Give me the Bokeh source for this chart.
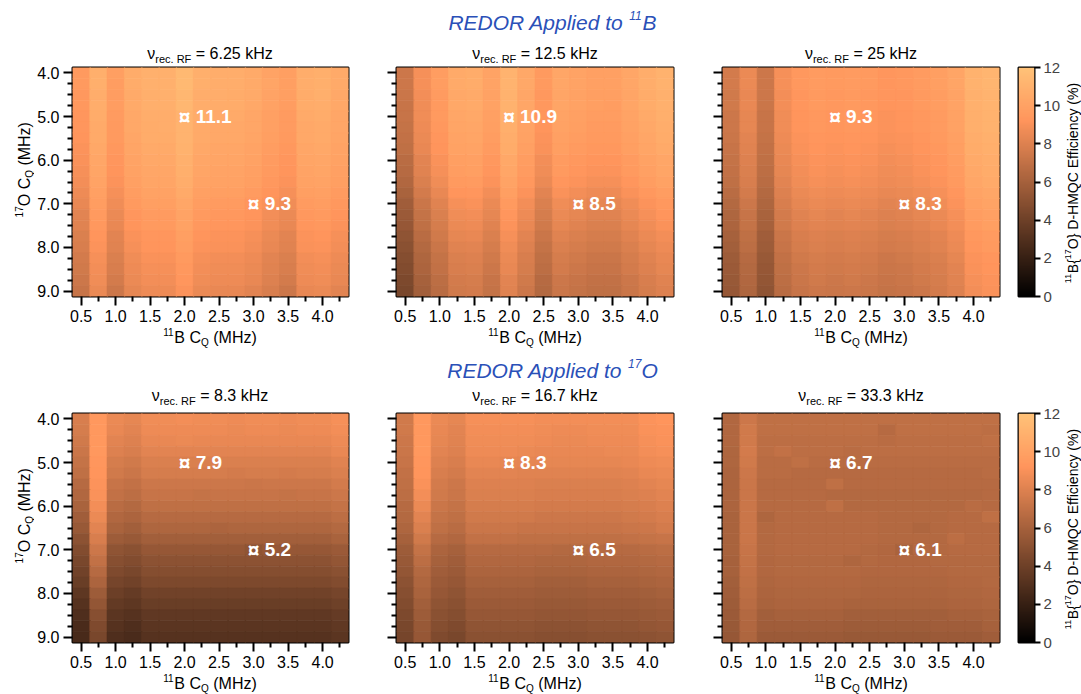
import math
import numpy as np
from bokeh.plotting import figure
from bokeh.layouts import row, column
from bokeh.models import (Range1d, FixedTicker, PrintfTickFormatter, LinearColorMapper,
                          ColumnDataSource, Label, LinearAxis, Spacer)
from bokeh.transform import transform
from bokeh.core.properties import value
from bokeh.embed import file_html
from bokeh.resources import INLINE

# ---------------- data ----------------
CQ_B = [0.5, 0.75, 1.0, 1.25, 1.5, 1.75, 2.0, 2.25, 2.5, 2.75, 3.0, 3.25, 3.5, 3.75, 4.0, 4.25]
CQ_O = [4.0, 4.25, 4.5, 4.75, 5.0, 5.25, 5.5, 5.75, 6.0, 6.25, 6.5, 6.75, 7.0,
        7.25, 7.5, 7.75, 8.0, 8.25, 8.5, 8.75, 9.0]

RF_LABELS = ["6.25 kHz", "12.5 kHz", "25 kHz", "8.3 kHz", "16.7 kHz", "33.3 kHz"]
ROW_TITLES = [("11", "B"), ("17", "O")]
MARK_B = [2.0, 3.0]
MARK_O = [5.0, 7.0]
MARK_VALUES = [["11.1", "9.3"], ["10.9", "8.5"], ["9.3", "8.3"],
               ["7.9", "5.2"], ["8.3", "6.5"], ["6.7", "6.1"]]
CBAR_TICKS = [0, 2, 4, 6, 8, 10, 12]

# efficiency (%) rows = 17O CQ (4.0 -> 9.0), columns = 11B CQ (0.5 -> 4.25)
EFF_B_625 = [
    [9.5, 10.8, 9.8, 10.6, 10.9, 10.9, 11.4, 10.8, 10.7, 10.7, 10.5, 10.1, 9.8, 10.7, 10.8, 10.5],
    [9.5, 10.8, 9.7, 10.6, 10.9, 10.9, 11.4, 10.8, 10.7, 10.7, 10.5, 10.2, 9.8, 10.7, 10.8, 10.5],
    [9.4, 10.7, 9.7, 10.5, 10.8, 10.9, 11.3, 10.7, 10.7, 10.6, 10.5, 10.1, 9.8, 10.6, 10.8, 10.4],
    [9.4, 10.7, 9.7, 10.5, 10.8, 10.8, 11.3, 10.7, 10.6, 10.6, 10.4, 10.0, 9.7, 10.6, 10.7, 10.4],
    [9.3, 10.6, 9.6, 10.4, 10.7, 10.7, 11.1, 10.6, 10.5, 10.5, 10.3, 9.9, 9.6, 10.5, 10.6, 10.3],
    [9.3, 10.5, 9.5, 10.4, 10.6, 10.7, 11.1, 10.5, 10.4, 10.4, 10.3, 9.9, 9.6, 10.4, 10.5, 10.3],
    [9.2, 10.5, 9.5, 10.3, 10.6, 10.6, 11.1, 10.5, 10.4, 10.4, 10.2, 9.8, 9.5, 10.4, 10.5, 10.2],
    [9.1, 10.4, 9.4, 10.2, 10.5, 10.5, 11.0, 10.4, 10.3, 10.3, 10.1, 9.7, 9.4, 10.3, 10.4, 10.1],
    [9.0, 10.3, 9.3, 10.1, 10.4, 10.4, 10.9, 10.3, 10.2, 10.2, 10.0, 9.6, 9.3, 10.2, 10.3, 10.0],
    [8.9, 10.2, 9.2, 10.0, 10.3, 10.3, 10.8, 10.2, 10.1, 10.1, 9.9, 9.5, 9.2, 10.1, 10.2, 9.9],
    [8.8, 10.1, 9.1, 9.9, 10.2, 10.2, 10.7, 10.1, 10.0, 10.0, 9.8, 9.4, 9.1, 10.0, 10.1, 9.8],
    [8.6, 9.9, 8.9, 9.7, 10.0, 10.0, 10.5, 9.9, 9.8, 9.8, 9.6, 9.2, 8.9, 9.8, 9.9, 9.6],
    [8.4, 9.7, 8.7, 9.5, 9.8, 9.8, 10.3, 9.7, 9.6, 9.6, 9.3, 9.0, 8.7, 9.6, 9.7, 9.4],
    [8.2, 9.5, 8.5, 9.3, 9.6, 9.6, 10.1, 9.5, 9.4, 9.4, 9.2, 8.8, 8.5, 9.4, 9.5, 9.2],
    [8.1, 9.4, 8.4, 9.2, 9.5, 9.5, 10.0, 9.4, 9.3, 9.3, 9.1, 8.7, 8.4, 9.3, 9.4, 9.1],
    [7.9, 9.2, 8.2, 9.0, 9.3, 9.3, 9.8, 9.2, 9.1, 9.1, 8.9, 8.5, 8.2, 9.1, 9.2, 8.9],
    [7.8, 9.1, 8.1, 8.9, 9.2, 9.2, 9.7, 9.1, 9.0, 9.0, 8.8, 8.4, 8.1, 9.0, 9.1, 8.8],
    [7.6, 8.9, 7.9, 8.7, 9.0, 9.0, 9.5, 8.9, 8.8, 8.8, 8.6, 8.2, 7.9, 8.8, 8.9, 8.6],
    [7.5, 8.8, 7.8, 8.6, 8.9, 8.9, 9.4, 8.8, 8.7, 8.7, 8.5, 8.1, 7.8, 8.7, 8.8, 8.5],
    [7.4, 8.7, 7.6, 8.5, 8.8, 8.8, 9.3, 8.7, 8.6, 8.6, 8.4, 8.0, 7.6, 8.6, 8.7, 8.4],
    [7.2, 8.5, 7.4, 8.3, 8.6, 8.6, 9.1, 8.5, 8.4, 8.4, 8.2, 7.8, 7.4, 8.4, 8.5, 8.2],
]
EFF_B_125 = [
    [7.4, 8.9, 9.7, 10.5, 10.6, 10.1, 11.1, 10.4, 9.5, 10.3, 10.1, 9.9, 9.9, 10.3, 10.7, 11.0],
    [7.4, 8.9, 9.7, 10.5, 10.6, 10.1, 11.1, 10.4, 9.5, 10.3, 10.1, 9.9, 9.9, 10.3, 10.7, 11.0],
    [7.3, 8.8, 9.6, 10.4, 10.5, 10.0, 11.0, 10.3, 9.4, 10.2, 10.0, 9.8, 9.8, 10.2, 10.6, 10.9],
    [7.2, 8.7, 9.5, 10.4, 10.5, 10.0, 11.0, 10.3, 9.4, 10.2, 10.0, 9.8, 9.7, 10.2, 10.6, 10.9],
    [7.2, 8.7, 9.5, 10.3, 10.4, 9.9, 10.9, 10.2, 9.3, 10.1, 9.9, 9.7, 9.7, 10.1, 10.5, 10.8],
    [7.1, 8.6, 9.4, 10.2, 10.3, 9.8, 10.8, 10.1, 9.2, 10.0, 9.8, 9.6, 9.6, 10.0, 10.4, 10.7],
    [7.0, 8.5, 9.3, 10.1, 10.2, 9.7, 10.7, 10.0, 9.1, 9.9, 9.7, 9.5, 9.5, 9.9, 10.3, 10.6],
    [6.9, 8.4, 9.2, 10.0, 10.1, 9.6, 10.6, 9.9, 9.0, 9.8, 9.6, 9.4, 9.4, 9.8, 10.2, 10.5],
    [6.7, 8.2, 9.0, 9.8, 9.9, 9.4, 10.4, 9.7, 8.8, 9.6, 9.4, 9.2, 9.2, 9.6, 10.0, 10.3],
    [6.6, 8.1, 8.9, 9.7, 9.8, 9.3, 10.3, 9.6, 8.7, 9.5, 9.3, 9.1, 9.1, 9.5, 9.9, 10.2],
    [6.4, 7.9, 8.7, 9.5, 9.6, 9.1, 10.1, 9.4, 8.5, 9.3, 9.1, 8.9, 8.9, 9.3, 9.7, 10.0],
    [6.1, 7.6, 8.4, 9.2, 9.3, 8.8, 9.8, 9.1, 8.2, 9.0, 8.8, 8.6, 8.6, 9.0, 9.4, 9.7],
    [5.8, 7.3, 8.1, 8.9, 9.0, 8.5, 9.5, 8.8, 7.9, 8.7, 8.5, 8.3, 8.3, 8.7, 9.1, 9.4],
    [5.6, 7.1, 7.9, 8.7, 8.8, 8.3, 9.3, 8.6, 7.7, 8.5, 8.3, 8.1, 8.1, 8.5, 8.9, 9.2],
    [5.4, 6.9, 7.7, 8.5, 8.6, 8.1, 9.1, 8.4, 7.5, 8.3, 8.1, 7.9, 7.9, 8.3, 8.7, 9.0],
    [5.2, 6.7, 7.5, 8.3, 8.4, 7.9, 8.9, 8.2, 7.3, 8.1, 7.9, 7.7, 7.7, 8.1, 8.5, 8.8],
    [5.0, 6.5, 7.3, 8.1, 8.2, 7.7, 8.7, 8.0, 7.1, 7.9, 7.7, 7.5, 7.5, 7.9, 8.3, 8.6],
    [4.8, 6.3, 7.1, 7.9, 8.0, 7.5, 8.5, 7.8, 6.9, 7.7, 7.5, 7.3, 7.3, 7.7, 8.1, 8.4],
    [4.7, 6.2, 7.0, 7.8, 7.9, 7.4, 8.4, 7.7, 6.8, 7.6, 7.4, 7.2, 7.2, 7.6, 8.0, 8.3],
    [4.5, 6.0, 6.8, 7.6, 7.7, 7.2, 8.2, 7.5, 6.6, 7.4, 7.2, 7.0, 7.0, 7.4, 7.8, 8.1],
    [4.4, 5.9, 6.7, 7.5, 7.6, 7.1, 8.1, 7.4, 6.5, 7.3, 7.1, 6.9, 6.9, 7.3, 7.7, 8.0],
]
EFF_B_25 = [
    [7.6, 8.5, 7.4, 8.9, 9.4, 9.6, 9.5, 9.6, 9.5, 9.3, 9.4, 9.6, 9.8, 10.2, 11.0, 11.2],
    [7.6, 8.5, 7.4, 8.9, 9.4, 9.6, 9.5, 9.6, 9.5, 9.3, 9.4, 9.6, 9.8, 10.2, 11.0, 11.2],
    [7.5, 8.4, 7.4, 8.8, 9.3, 9.5, 9.4, 9.5, 9.4, 9.3, 9.3, 9.5, 9.7, 10.1, 10.9, 11.1],
    [7.5, 8.4, 7.3, 8.8, 9.3, 9.5, 9.4, 9.5, 9.4, 9.2, 9.3, 9.5, 9.7, 10.1, 10.9, 11.1],
    [7.4, 8.3, 7.2, 8.7, 9.2, 9.4, 9.3, 9.4, 9.3, 9.1, 9.2, 9.4, 9.6, 10.0, 10.8, 11.0],
    [7.4, 8.3, 7.2, 8.7, 9.2, 9.4, 9.3, 9.4, 9.3, 9.1, 9.2, 9.4, 9.6, 10.0, 10.8, 11.0],
    [7.3, 8.2, 7.1, 8.6, 9.1, 9.3, 9.2, 9.3, 9.2, 9.0, 9.1, 9.3, 9.5, 9.9, 10.7, 10.9],
    [7.2, 8.1, 7.0, 8.5, 9.0, 9.2, 9.1, 9.2, 9.1, 8.9, 9.0, 9.2, 9.4, 9.8, 10.6, 10.8],
    [7.1, 8.0, 6.9, 8.4, 8.9, 9.1, 9.0, 9.1, 9.0, 8.8, 8.9, 9.1, 9.3, 9.7, 10.5, 10.7],
    [7.0, 7.9, 6.8, 8.3, 8.8, 9.0, 8.9, 9.0, 8.9, 8.7, 8.8, 9.0, 9.2, 9.6, 10.4, 10.6],
    [6.9, 7.8, 6.7, 8.2, 8.7, 8.9, 8.8, 8.9, 8.8, 8.6, 8.7, 8.9, 9.1, 9.5, 10.3, 10.5],
    [6.7, 7.6, 6.5, 8.0, 8.5, 8.7, 8.6, 8.7, 8.6, 8.4, 8.5, 8.7, 8.9, 9.3, 10.1, 10.3],
    [6.5, 7.4, 6.3, 7.8, 8.3, 8.5, 8.4, 8.5, 8.4, 8.2, 8.3, 8.5, 8.7, 9.1, 9.9, 10.1],
    [6.3, 7.2, 6.1, 7.6, 8.1, 8.3, 8.2, 8.3, 8.2, 8.0, 8.1, 8.3, 8.5, 8.9, 9.7, 9.9],
    [6.2, 7.1, 6.0, 7.5, 8.0, 8.2, 8.1, 8.2, 8.1, 7.9, 8.0, 8.2, 8.4, 8.8, 9.6, 9.8],
    [6.0, 6.9, 5.8, 7.3, 7.8, 8.0, 7.9, 8.0, 7.9, 7.7, 7.8, 8.0, 8.2, 8.6, 9.4, 9.6],
    [5.9, 6.8, 5.7, 7.2, 7.7, 7.9, 7.8, 7.9, 7.8, 7.6, 7.7, 7.9, 8.1, 8.5, 9.3, 9.5],
    [5.7, 6.6, 5.5, 7.0, 7.5, 7.7, 7.6, 7.7, 7.6, 7.4, 7.5, 7.7, 7.9, 8.3, 9.1, 9.3],
    [5.6, 6.5, 5.4, 6.9, 7.4, 7.6, 7.5, 7.6, 7.5, 7.3, 7.4, 7.6, 7.8, 8.2, 9.0, 9.2],
    [5.5, 6.4, 5.3, 6.8, 7.3, 7.5, 7.4, 7.5, 7.4, 7.2, 7.3, 7.5, 7.7, 8.1, 8.9, 9.1],
    [5.4, 6.3, 5.2, 6.7, 7.2, 7.4, 7.3, 7.4, 7.3, 7.1, 7.2, 7.4, 7.6, 8.0, 8.8, 9.0],
]
EFF_O_83 = [
    [7.8, 9.4, 8.5, 8.3, 8.7, 8.7, 8.8, 8.7, 8.7, 8.6, 8.7, 8.7, 8.6, 8.7, 8.7, 8.9],
    [7.7, 9.4, 8.4, 8.2, 8.6, 8.6, 8.6, 8.6, 8.6, 8.5, 8.6, 8.6, 8.5, 8.6, 8.6, 8.8],
    [7.5, 9.4, 8.2, 8.0, 8.4, 8.4, 8.5, 8.4, 8.4, 8.4, 8.4, 8.4, 8.4, 8.4, 8.4, 8.6],
    [7.3, 9.4, 8.0, 7.8, 8.2, 8.2, 8.2, 8.2, 8.2, 8.2, 8.2, 8.2, 8.2, 8.2, 8.2, 8.4],
    [7.1, 9.3, 7.7, 7.5, 7.9, 7.9, 7.9, 7.9, 7.9, 7.9, 7.9, 7.9, 7.9, 7.9, 7.9, 8.1],
    [6.9, 9.2, 7.5, 7.3, 7.7, 7.7, 7.7, 7.7, 7.7, 7.6, 7.7, 7.7, 7.6, 7.7, 7.7, 7.9],
    [6.6, 9.1, 7.2, 7.0, 7.4, 7.4, 7.4, 7.4, 7.4, 7.4, 7.3, 7.4, 7.4, 7.4, 7.4, 7.6],
    [6.4, 9.0, 7.0, 6.8, 7.2, 7.2, 7.2, 7.1, 7.2, 7.2, 7.2, 7.2, 7.1, 7.2, 7.2, 7.4],
    [6.1, 8.8, 6.7, 6.5, 6.9, 6.9, 6.9, 6.9, 6.9, 6.9, 6.9, 6.9, 6.9, 6.9, 6.9, 7.1],
    [5.8, 8.5, 6.4, 6.2, 6.6, 6.6, 6.6, 6.6, 6.6, 6.6, 6.6, 6.6, 6.6, 6.6, 6.6, 6.8],
    [5.5, 8.2, 6.1, 5.9, 6.3, 6.3, 6.3, 6.3, 6.2, 6.3, 6.3, 6.3, 6.3, 6.3, 6.3, 6.5],
    [5.1, 7.8, 5.7, 5.5, 5.9, 5.9, 5.9, 5.9, 5.9, 5.9, 5.9, 5.9, 5.9, 5.9, 5.9, 6.1],
    [4.7, 7.4, 5.2, 5.0, 5.4, 5.4, 5.4, 5.4, 5.4, 5.4, 5.2, 5.4, 5.4, 5.4, 5.4, 5.6],
    [4.4, 7.0, 4.9, 4.7, 5.1, 5.1, 5.1, 5.1, 5.1, 5.1, 5.1, 5.1, 5.1, 5.1, 5.1, 5.3],
    [4.1, 6.6, 4.6, 4.4, 4.8, 4.8, 4.8, 4.8, 4.8, 4.8, 4.8, 4.8, 4.8, 4.8, 4.8, 5.0],
    [3.8, 6.2, 4.3, 4.1, 4.5, 4.5, 4.5, 4.5, 4.5, 4.5, 4.5, 4.5, 4.5, 4.5, 4.5, 4.7],
    [3.4, 5.7, 3.9, 3.7, 4.1, 4.1, 4.1, 4.1, 4.1, 4.1, 4.1, 4.1, 4.1, 4.1, 4.1, 4.3],
    [3.1, 5.3, 3.6, 3.4, 3.8, 3.8, 3.8, 3.8, 3.8, 3.8, 3.8, 3.8, 3.8, 3.8, 3.8, 4.0],
    [2.9, 4.9, 3.3, 3.1, 3.5, 3.5, 3.5, 3.5, 3.5, 3.5, 3.5, 3.5, 3.5, 3.5, 3.5, 3.7],
    [2.7, 4.6, 3.1, 2.9, 3.3, 3.3, 3.3, 3.3, 3.3, 3.3, 3.3, 3.3, 3.3, 3.3, 3.3, 3.5],
    [2.6, 4.4, 2.9, 2.7, 3.1, 3.1, 3.1, 3.1, 3.1, 3.1, 3.1, 3.1, 3.1, 3.1, 3.1, 3.3],
]
EFF_O_167 = [
    [7.5, 9.4, 8.5, 8.3, 8.9, 8.9, 8.9, 8.9, 8.8, 8.8, 8.8, 8.8, 8.8, 8.8, 9.1, 9.2],
    [7.5, 9.4, 8.4, 8.2, 8.8, 8.8, 8.8, 8.8, 8.7, 8.6, 8.6, 8.7, 8.7, 8.7, 9.0, 9.1],
    [7.4, 9.4, 8.3, 8.1, 8.7, 8.7, 8.7, 8.7, 8.6, 8.5, 8.5, 8.6, 8.6, 8.6, 8.9, 9.0],
    [7.3, 9.4, 8.2, 8.0, 8.6, 8.6, 8.6, 8.5, 8.4, 8.4, 8.4, 8.4, 8.5, 8.5, 8.8, 8.9],
    [7.2, 9.3, 8.0, 7.8, 8.4, 8.4, 8.3, 8.3, 8.3, 8.3, 8.3, 8.3, 8.3, 8.4, 8.6, 8.7],
    [7.0, 9.2, 7.8, 7.6, 8.2, 8.2, 8.2, 8.1, 8.1, 8.1, 8.1, 8.1, 8.1, 8.2, 8.4, 8.5],
    [6.9, 9.0, 7.6, 7.4, 8.0, 8.0, 8.0, 8.0, 7.9, 7.9, 7.9, 7.9, 7.9, 8.0, 8.2, 8.3],
    [6.8, 8.8, 7.5, 7.3, 7.9, 7.9, 7.9, 7.9, 7.8, 7.8, 7.8, 7.8, 7.8, 7.9, 8.0, 8.2],
    [6.6, 8.5, 7.3, 7.1, 7.7, 7.7, 7.7, 7.7, 7.6, 7.6, 7.6, 7.6, 7.6, 7.7, 7.8, 8.0],
    [6.5, 8.2, 7.1, 6.9, 7.5, 7.5, 7.5, 7.5, 7.4, 7.4, 7.4, 7.4, 7.4, 7.5, 7.6, 7.8],
    [6.3, 7.9, 6.9, 6.7, 7.3, 7.3, 7.3, 7.2, 7.2, 7.2, 7.2, 7.2, 7.2, 7.3, 7.4, 7.6],
    [6.0, 7.5, 6.6, 6.4, 7.0, 7.0, 7.0, 6.9, 6.9, 6.9, 6.9, 6.9, 6.9, 7.0, 7.1, 7.2],
    [5.7, 7.1, 6.2, 6.0, 6.6, 6.6, 6.6, 6.6, 6.6, 6.5, 6.5, 6.6, 6.6, 6.6, 6.7, 6.8],
    [5.5, 6.8, 6.0, 5.8, 6.4, 6.4, 6.4, 6.4, 6.3, 6.3, 6.3, 6.4, 6.4, 6.4, 6.5, 6.6],
    [5.3, 6.5, 5.8, 5.6, 6.2, 6.2, 6.2, 6.2, 6.1, 6.1, 6.1, 6.2, 6.2, 6.2, 6.3, 6.4],
    [5.1, 6.3, 5.6, 5.4, 6.0, 6.0, 6.0, 6.0, 5.9, 5.9, 5.9, 6.0, 6.0, 6.0, 6.1, 6.2],
    [4.9, 6.1, 5.4, 5.2, 5.8, 5.8, 5.8, 5.8, 5.7, 5.7, 5.7, 5.8, 5.8, 5.8, 5.9, 6.0],
    [4.7, 5.9, 5.2, 5.0, 5.6, 5.6, 5.6, 5.6, 5.5, 5.5, 5.5, 5.6, 5.6, 5.6, 5.7, 5.8],
    [4.5, 5.7, 5.0, 4.8, 5.4, 5.4, 5.4, 5.4, 5.3, 5.3, 5.3, 5.4, 5.4, 5.4, 5.5, 5.6],
    [4.4, 5.5, 4.8, 4.6, 5.2, 5.2, 5.2, 5.2, 5.1, 5.1, 5.1, 5.2, 5.2, 5.2, 5.3, 5.4],
    [4.3, 5.4, 4.6, 4.4, 5.0, 5.0, 5.0, 5.0, 4.9, 4.9, 4.9, 5.0, 5.0, 5.0, 5.1, 5.2],
]
EFF_O_333 = [
    [6.4, 7.4, 6.9, 6.9, 6.9, 6.9, 6.9, 6.9, 6.9, 6.9, 6.9, 6.9, 6.9, 6.9, 6.9, 6.9],
    [6.4, 7.5, 6.9, 6.9, 6.9, 6.9, 6.9, 6.9, 6.9, 6.6, 6.9, 6.9, 6.9, 6.9, 6.9, 6.8],
    [6.4, 7.5, 6.8, 6.8, 6.8, 6.8, 6.8, 6.8, 6.8, 6.7, 6.8, 6.8, 6.8, 6.8, 6.8, 6.9],
    [6.3, 7.6, 6.8, 7.0, 6.8, 6.8, 6.8, 6.7, 6.8, 6.8, 6.8, 6.8, 6.8, 6.8, 6.8, 6.8],
    [6.3, 7.5, 6.7, 6.7, 6.9, 6.7, 6.7, 6.7, 6.7, 6.7, 6.7, 6.7, 6.7, 6.7, 6.7, 6.7],
    [6.2, 7.4, 6.7, 6.7, 6.6, 6.6, 6.6, 6.6, 6.6, 6.6, 6.6, 6.6, 6.6, 6.6, 6.6, 6.7],
    [6.2, 7.3, 6.6, 6.6, 6.6, 6.6, 6.9, 6.6, 6.6, 6.6, 6.6, 6.6, 6.6, 6.6, 6.6, 6.6],
    [6.2, 7.3, 6.6, 6.6, 6.6, 6.6, 6.5, 6.5, 6.5, 6.5, 6.5, 6.5, 6.5, 6.5, 6.5, 6.6],
    [6.2, 7.3, 6.6, 6.6, 6.6, 6.6, 6.9, 6.5, 6.5, 6.5, 6.5, 6.5, 6.5, 6.5, 6.7, 6.6],
    [6.1, 7.3, 6.3, 6.6, 6.6, 6.6, 6.6, 6.6, 6.6, 6.5, 6.5, 6.5, 6.5, 6.6, 6.6, 6.9],
    [6.1, 7.3, 6.5, 6.6, 6.6, 6.6, 6.6, 6.6, 6.6, 6.5, 6.5, 6.3, 6.5, 6.6, 6.6, 6.6],
    [6.1, 7.3, 6.5, 6.6, 6.6, 6.6, 6.6, 6.6, 6.6, 6.5, 6.5, 6.5, 6.5, 6.8, 6.6, 6.6],
    [6.1, 7.2, 6.5, 6.6, 6.6, 6.6, 6.6, 6.6, 6.5, 6.4, 6.1, 6.5, 6.5, 6.6, 6.6, 6.6],
    [6.0, 7.1, 6.4, 6.5, 6.5, 6.5, 6.5, 6.3, 6.5, 6.4, 6.4, 6.4, 6.5, 6.5, 6.5, 6.5],
    [6.0, 7.0, 6.4, 6.5, 6.5, 6.5, 6.5, 6.5, 6.4, 6.4, 6.4, 6.4, 6.4, 6.5, 6.5, 6.5],
    [5.9, 6.9, 6.3, 6.4, 6.4, 6.4, 6.4, 6.4, 6.3, 6.3, 6.3, 6.3, 6.3, 6.4, 6.4, 6.5],
    [5.8, 6.8, 6.2, 6.3, 6.3, 6.3, 6.3, 6.3, 6.2, 6.2, 6.2, 6.2, 6.2, 6.3, 6.3, 6.4],
    [5.7, 6.7, 6.1, 6.2, 6.2, 6.2, 6.2, 6.1, 6.1, 6.1, 6.1, 6.1, 6.1, 6.2, 6.2, 6.3],
    [5.6, 6.5, 5.9, 6.0, 6.0, 6.0, 6.0, 5.9, 5.9, 5.9, 5.9, 5.9, 5.9, 6.0, 6.0, 6.1],
    [5.5, 6.4, 5.8, 5.8, 5.8, 5.8, 5.8, 5.7, 5.7, 5.7, 5.7, 5.7, 5.8, 5.8, 5.8, 6.0],
    [5.4, 6.3, 5.6, 5.6, 5.6, 5.6, 5.6, 5.5, 5.5, 5.5, 5.5, 5.5, 5.6, 5.6, 5.6, 5.8],
]
PANELS = [EFF_B_625, EFF_B_125, EFF_B_25, EFF_O_83, EFF_O_167, EFF_O_333]

# ---------------- style ----------------
FONT = "Liberation Sans"
BLUE = "#2a50b8"
NB = "\u00a0"
FRAME_W, FRAME_H = 277, 229
FRAME_CX = [209.5, 534.5, 860.5]   # page x of each panel's centre
LEFT_W = 1004
RIGHT_W = 77

COPPER = []
for i in range(256):
    t = i / 255.0
    COPPER.append("#%02x%02x%02x" % (round(min(1.0, 1.3 * t) * 255),
                                     round(0.76 * t * 255), round(0.47 * t * 255)))
mapper = LinearColorMapper(palette=COPPER, low=0, high=12)

CW = {' ': .278, NB: .278, '.': .278, '=': .584, '-': .333, '(': .333, ')': .333, '{': .334,
      '}': .334, '%': .889, 'A': .667, 'B': .667, 'C': .722, 'D': .722, 'E': .667, 'F': .611,
      'H': .722, 'M': .833, 'O': .778, 'Q': .778, 'R': .722, 'k': .5, 'z': .5, 'r': .333,
      'e': .556, 'c': .5, 'p': .556, 'l': .222, 'i': .222, 'd': .556, 't': .278, 'o': .556,
      'f': .278, 'n': .556, 'y': .5, 'ν': .5}


def text_w(s, size):
    return sum(CW.get(ch, .556) for ch in s) * size


def rich(p, x, y, pieces, angle=0.0, color="black", style="normal"):
    """pieces: (text, font px, baseline shift px upward); centred on (x, y)."""
    total = sum(text_w(t, s) for t, s, _ in pieces)
    pos = -total / 2.0
    for t, s, shift in pieces:
        if angle == 0:
            xo, yo = pos, shift
        else:
            xo, yo = -shift, pos
        p.add_layout(Label(x=x, y=y, x_offset=xo, y_offset=yo, text=t, angle=angle,
                           text_font=FONT, text_font_size="%dpx" % s, text_color=color,
                           text_font_style=style, text_align="left", text_baseline="middle"))
        pos += text_w(t, s)


def text_fig(w, h):
    p = figure(width=w, height=h, x_range=Range1d(0, w), y_range=Range1d(h, 0),
               output_backend="svg", toolbar_location=None, min_border=0,
               x_axis_location=None, y_axis_location=None)
    p.grid.visible = False
    p.outline_line_color = None
    p.background_fill_color = "white"
    p.border_fill_color = "white"
    return p


def style_axis(ax, labels=True):
    ax.axis_line_color = None
    ax.major_tick_line_color = "black"
    ax.major_tick_line_width = 2
    ax.major_tick_in = 0
    ax.major_tick_out = 9
    ax.minor_tick_line_color = "black"
    ax.minor_tick_line_width = 2
    ax.minor_tick_in = 0
    ax.minor_tick_out = 5
    ax.major_label_text_font = FONT
    ax.major_label_text_font_size = "16px"
    ax.major_label_text_color = "black"
    ax.major_label_standoff = 4
    if not labels:
        ax.major_label_overrides = {4: "", 5: "", 6: "", 7: "", 8: "", 9: ""}


BTOP, BBOT = 2, 30
MID_H = BTOP + FRAME_H + BBOT
XLAB_H = 22


def make_panel(idx, left, right):
    data = PANELS[idx]
    p = figure(width=left + FRAME_W + right, height=MID_H,
               x_range=Range1d(0.375, 4.375), y_range=Range1d(9.125, 3.875),
               output_backend="svg", toolbar_location=None,
               min_border_left=left, min_border_right=right,
               min_border_top=BTOP, min_border_bottom=BBOT)
    xs, ys, vs = [], [], []
    for i, yv in enumerate(CQ_O):
        for j, xv in enumerate(CQ_B):
            xs.append(xv)
            ys.append(yv)
            vs.append(data[i][j])
    src = ColumnDataSource(dict(x=xs, y=ys, v=vs))
    p.rect("x", "y", width=0.25, height=0.25, source=src,
           fill_color=transform("v", mapper), line_color=transform("v", mapper),
           line_width=0.6, dilate=True)

    p.xaxis.ticker = FixedTicker(ticks=[0.5, 1.0, 1.5, 2.0, 2.5, 3.0, 3.5, 4.0],
                                 minor_ticks=[0.75, 1.25, 1.75, 2.25, 2.75, 3.25, 3.75, 4.25])
    p.xaxis.formatter = PrintfTickFormatter(format="%.1f")
    minor_y = [v for v in CQ_O if v != int(v)]
    p.yaxis.ticker = FixedTicker(ticks=[4, 5, 6, 7, 8, 9], minor_ticks=minor_y)
    p.yaxis.formatter = PrintfTickFormatter(format="%.1f")
    style_axis(p.xaxis[0])
    style_axis(p.yaxis[0], labels=(idx % 3 == 0))
    p.xgrid.visible = False
    p.ygrid.visible = False
    p.outline_line_color = "black"
    p.outline_line_width = 2
    p.background_fill_color = "white"
    p.border_fill_color = "white"

    msrc = ColumnDataSource(dict(x=MARK_B, y=MARK_O, t=MARK_VALUES[idx]))
    p.text(x="x", y="y", text=value("¤"), source=msrc, text_color="white",
           text_font=value(FONT), text_font_size="21px", text_font_style="bold",
           text_align="center", text_baseline="middle")
    p.text(x="x", y="y", text="t", source=msrc, x_offset=11, text_color="white",
           text_font=value(FONT), text_font_size="19px", text_font_style="bold",
           text_align="left", text_baseline="middle")
    return p


CB_TOP, CB_BOT = 12, 10


def make_cbar():
    p = figure(width=14 + 16 + 30, height=CB_TOP + FRAME_H + CB_BOT,
               x_range=Range1d(0, 1), y_range=Range1d(0, 12),
               output_backend="svg", toolbar_location=None,
               x_axis_location=None, y_axis_location=None,
               min_border_left=14, min_border_right=30,
               min_border_top=CB_TOP, min_border_bottom=CB_BOT)
    grad = np.linspace(0, 12, 480).reshape(-1, 1)
    p.image(image=[grad], x=0, y=0, dw=1, dh=12, color_mapper=mapper)
    ax = LinearAxis(ticker=FixedTicker(ticks=CBAR_TICKS, minor_ticks=[]))
    ax.axis_line_color = None
    ax.major_tick_line_color = "black"
    ax.major_tick_line_width = 2
    ax.major_tick_in = 0
    ax.major_tick_out = 6
    ax.minor_tick_line_color = None
    ax.major_label_text_font = FONT
    ax.major_label_text_font_size = "15px"
    ax.major_label_standoff = 3
    p.add_layout(ax, "right")
    p.grid.visible = False
    p.outline_line_color = "black"
    p.outline_line_width = 2
    p.border_fill_color = "white"
    return p


def block(r, top_h, main_y, sub_y):
    # titles strip
    tt = text_fig(LEFT_W, top_h)
    sup, nuc = ROW_TITLES[r]
    rich(tt, 552, main_y, [("REDOR Applied to" + NB, 21, 0), (sup, 12, 7), (nuc, 21, 0)],
         color=BLUE, style="italic")
    for k in range(3):
        rich(tt, FRAME_CX[k], sub_y,
             [("ν", 16, 0), ("rec. RF", 11, -5), (NB + "= " + RF_LABELS[3 * r + k], 16, 0)])
    # y label strip
    yl = text_fig(34, MID_H)
    rich(yl, 24, BTOP + FRAME_H / 2.0,
         [("17", 10, 6), ("O C", 16, 0), ("Q", 10, -5), (NB + "(MHz)", 16, 0)],
         angle=math.pi / 2)
    # x label strip
    xb = text_fig(LEFT_W, XLAB_H)
    for k in range(3):
        rich(xb, FRAME_CX[k], 11,
             [("11", 10, 6), ("B C", 16, 0), ("Q", 10, -5), (NB + "(MHz)", 16, 0)])
    left = column(tt,
                  row(yl, make_panel(3 * r, 37, 10), make_panel(3 * r + 1, 38, 10),
                      make_panel(3 * r + 2, 39, 5), spacing=0),
                  xb, spacing=0)
    # colour bar column
    cb_h = CB_TOP + FRAME_H + CB_BOT
    cl = text_fig(RIGHT_W - 60, cb_h)
    rich(cl, 8, CB_TOP + FRAME_H / 2.0,
         [("11", 9, 5), ("B{", 14, 0), ("17", 9, 5), ("O} D-HMQC Efficiency (%)", 14, 0)],
         angle=math.pi / 2)
    top_gap = top_h + BTOP - CB_TOP
    bot_gap = top_h + MID_H + XLAB_H - top_gap - cb_h
    right = column(Spacer(width=RIGHT_W, height=top_gap),
                   row(make_cbar(), cl, spacing=0),
                   Spacer(width=RIGHT_W, height=bot_gap), spacing=0)
    return row(left, right, spacing=0)


layout = column(block(0, 65, 22, 53), block(1, 63, 22, 47), spacing=0)

open("out.html", "w").write(file_html(layout, INLINE))
